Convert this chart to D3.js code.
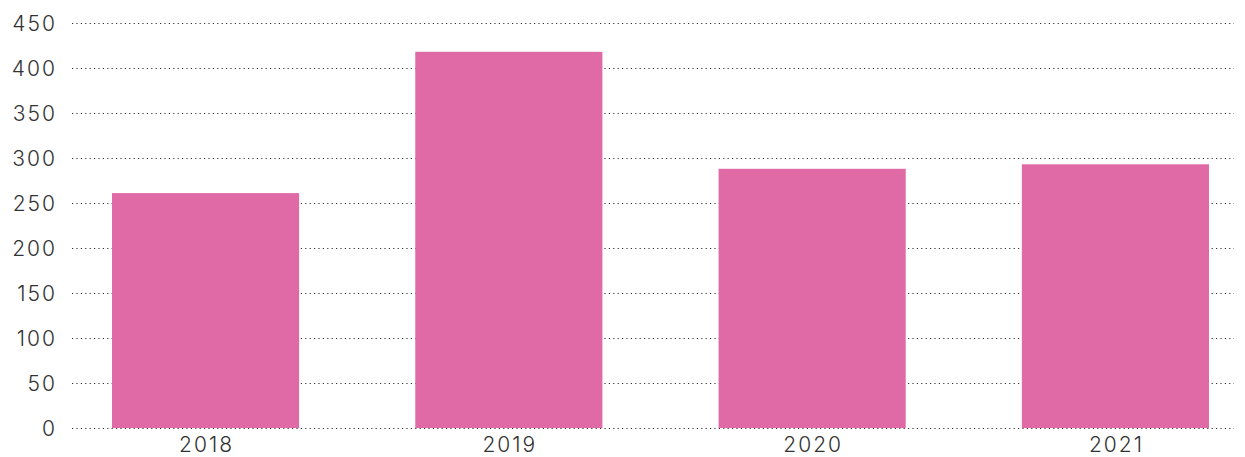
<!DOCTYPE html>
<html>
<head>
<meta charset="utf-8">
<script src="https://cdn.jsdelivr.net/npm/d3@7"></script>
<style>
	body { margin: 0; background: #fff; }
	.axis text { font-family: Inter, sans-serif; font-weight: 300; font-size: 21px; fill: #333; letter-spacing: 2px; }
	.grid line { stroke: #333; stroke-width: 1; stroke-dasharray: 1.2, 3.2; }
	.domain { display: none; }
</style>
</head>
<body>
<div id="graphic"></div>
<script>
// chart values
const years = ['2018', '2019', '2020', '2021'];
const values = [261, 418, 288, 293];
const yTicks = [0, 50, 100, 150, 200, 250, 300, 350, 400, 450];

const barColour = '#e06aa6';

let graphic = d3.select('#graphic');

function drawGraphic() {
	let width = 1245, height = 457;

	// plot area
	let gridLeft = 72, gridRight = 1234;
	let yTop = 23, yBottom = 428;

	const svg = graphic.append('svg')
		.attr('width', width)
		.attr('height', height);

	const x = d3.scaleBand()
		.domain(years)
		.range([112, 1209])
		.paddingInner(0.383)
		.paddingOuter(0);

	const y = d3.scaleLinear()
		.domain([0, 450])
		.range([yBottom, yTop]);

	// dotted grid lines
	svg.append('g')
		.attr('class', 'grid')
		.attr('transform', `translate(${gridLeft},0)`)
		.call(d3.axisLeft(y).tickValues(yTicks).tickSize(-(gridRight - gridLeft)).tickFormat(''));

	// bars
	svg.selectAll('rect.bar')
		.data(years)
		.join('rect')
		.attr('class', 'bar')
		.attr('x', (d) => x(d))
		.attr('width', x.bandwidth())
		.attr('y', (d, i) => y(values[i]))
		.attr('height', (d, i) => y(0) - y(values[i]))
		.attr('fill', barColour);

	// y axis labels (letter-spacing adds trailing space, so nudge right)
	svg.append('g')
		.attr('class', 'y axis')
		.attr('transform', 'translate(57,0)')
		.call(d3.axisLeft(y).tickValues(yTicks).tickSize(0).tickPadding(0))
		.selectAll('text')
		.attr('dy', '0.35em');

	// x axis labels
	svg.append('g')
		.attr('class', 'x axis')
		.attr('transform', `translate(1,${yBottom})`)
		.call(d3.axisBottom(x).tickSize(0).tickPadding(9));
}

drawGraphic();
</script>
</body>
</html>
